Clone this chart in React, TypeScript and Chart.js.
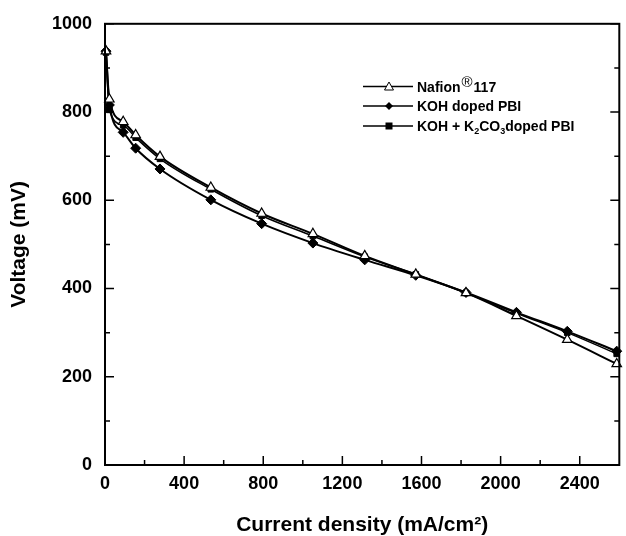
import React, { useEffect, useRef } from "react";
import { Chart, registerables } from "chart.js";

Chart.register(...registerables);

const currentDensity = [5, 22, 92, 155, 278, 535, 792, 1051, 1313, 1571, 1825, 2080, 2337, 2587];
const nafionVoltage = [938, 829, 778, 748, 699, 629, 570, 524, 474, 432, 390, 338, 284, 229];
const kohVoltage = [938, 816, 754, 718, 671, 601, 547, 503, 465, 430, 391, 346, 303, 258];
const kohK2co3Voltage = [935, 805, 770, 742, 694, 625, 565, 519, 472, 432, 390, 344, 300, 252];

const xTicks = [0, 400, 800, 1200, 1600, 2000, 2400];
const xMinorTicks = [200, 600, 1000, 1400, 1800, 2200];
const yTicks = [0, 200, 400, 600, 800, 1000];
const yMinorTicks = [100, 300, 500, 700, 900];

const seriesLabels = ["Nafion®117", "KOH doped PBI", "KOH + K2CO3doped PBI"];

const FONT = "'Liberation Sans', Arial, sans-serif";

const toPoints = (ys: number[]) => ys.map((y, i) => ({ x: currentDensity[i], y }));

const framePlugin = {
  id: "frameTicks",
  afterDatasetsDraw(chart: any) {
    const { ctx, chartArea, scales } = chart;
    const { left, right, top, bottom } = chartArea;
    ctx.save();
    ctx.strokeStyle = "#000";
    ctx.lineWidth = 2;
    ctx.strokeRect(left, top, right - left, bottom - top);
    ctx.lineWidth = 1.5;
    ctx.beginPath();
    xTicks.forEach((v) => {
      const px = scales.x.getPixelForValue(v);
      ctx.moveTo(px, bottom);
      ctx.lineTo(px, bottom - 9);
    });
    xMinorTicks.forEach((v) => {
      const px = scales.x.getPixelForValue(v);
      ctx.moveTo(px, bottom);
      ctx.lineTo(px, bottom - 5);
    });
    yTicks.forEach((v) => {
      const py = scales.y.getPixelForValue(v);
      ctx.moveTo(left, py);
      ctx.lineTo(left + 9, py);
      ctx.moveTo(right, py);
      ctx.lineTo(right - 9, py);
    });
    yMinorTicks.forEach((v) => {
      const py = scales.y.getPixelForValue(v);
      ctx.moveTo(left, py);
      ctx.lineTo(left + 5, py);
      ctx.moveTo(right, py);
      ctx.lineTo(right - 5, py);
    });
    ctx.stroke();
    ctx.restore();
  },
};

const legendPlugin = {
  id: "customLegend",
  afterDraw(chart: any) {
    const { ctx } = chart;
    const rows = [86.5, 106, 126];
    const x0 = 363;
    const x1 = 413;
    const mx = 389;
    const tx = 417;
    ctx.save();
    ctx.strokeStyle = "#000";
    ctx.fillStyle = "#000";
    rows.forEach((y, i) => {
      ctx.lineWidth = 1.5;
      ctx.beginPath();
      ctx.moveTo(x0, y);
      ctx.lineTo(x1, y);
      ctx.stroke();
      ctx.beginPath();
      if (i === 0) {
        ctx.moveTo(mx, y - 4.5);
        ctx.lineTo(mx + 4.5, y + 3.5);
        ctx.lineTo(mx - 4.5, y + 3.5);
        ctx.closePath();
        ctx.fillStyle = "#fff";
        ctx.fill();
        ctx.lineWidth = 1;
        ctx.stroke();
        ctx.fillStyle = "#000";
      } else if (i === 1) {
        ctx.moveTo(mx, y - 4);
        ctx.lineTo(mx + 4, y);
        ctx.lineTo(mx, y + 4);
        ctx.lineTo(mx - 4, y);
        ctx.closePath();
        ctx.fill();
      } else {
        ctx.rect(mx - 3.5, y - 3.5, 7, 7);
        ctx.fill();
      }
    });
    ctx.textBaseline = "alphabetic";
    ctx.textAlign = "left";
    const big = `bold 14px ${FONT}`;
    const small = `bold 9px ${FONT}`;
    // Row 1: Nafion®117
    let x = tx;
    let base = rows[0] + 5;
    ctx.font = big;
    ctx.fillText("Nafion", x, base);
    x += ctx.measureText("Nafion").width + 1;
    ctx.font = `15px ${FONT}`;
    ctx.fillText("®", x, base - 5);
    x += ctx.measureText("®").width + 1;
    ctx.font = big;
    ctx.fillText("117", x, base);
    // Row 2
    base = rows[1] + 5;
    ctx.fillText(seriesLabels[1], tx, base);
    // Row 3: KOH + K2CO3doped PBI
    base = rows[2] + 5;
    const parts: [string, boolean][] = [["KOH + K", false], ["2", true], ["CO", false], ["3", true], ["doped PBI", false]];
    x = tx;
    parts.forEach(([t, sub]) => {
      ctx.font = sub ? small : big;
      ctx.fillText(t, x, sub ? base + 3 : base);
      x += ctx.measureText(t).width;
    });
    ctx.restore();
  },
};

export default function App() {
  const ref = useRef<HTMLCanvasElement>(null);
  useEffect(() => {
    document.body.style.margin = "0";
    const canvas = ref.current!;
    const chart = new Chart(canvas, {
      type: "line",
      data: {
        datasets: [
          {
            label: seriesLabels[0],
            data: toPoints(nafionVoltage),
            borderColor: "#000",
            borderWidth: 2,
            pointStyle: "triangle",
            pointRadius: 5.5,
            pointBackgroundColor: "#fff",
            pointBorderColor: "#000",
            pointBorderWidth: 1.2,
            cubicInterpolationMode: "monotone",
          },
          {
            label: seriesLabels[1],
            data: toPoints(kohVoltage),
            borderColor: "#000",
            borderWidth: 2,
            pointStyle: "rectRot",
            pointRadius: 5,
            pointBackgroundColor: "#000",
            pointBorderColor: "#000",
            pointBorderWidth: 1,
            cubicInterpolationMode: "monotone",
          },
          {
            label: seriesLabels[2],
            data: toPoints(kohK2co3Voltage),
            borderColor: "#000",
            borderWidth: 1.5,
            pointStyle: "rect",
            pointRadius: 4,
            pointBackgroundColor: "#000",
            pointBorderColor: "#000",
            pointBorderWidth: 1,
            cubicInterpolationMode: "monotone",
          },
        ],
      },
      options: {
        animation: false,
        responsive: false,
        devicePixelRatio: 1,
        clip: false,
        layout: { padding: { left: 0, right: 1, top: 22, bottom: 0 } },
        plugins: { legend: { display: false }, tooltip: { enabled: false } },
        scales: {
          x: {
            type: "linear",
            min: 0,
            max: 2600,
            afterBuildTicks: (s: any) => {
              s.ticks = xTicks.map((v) => ({ value: v }));
            },
            afterFit: (s: any) => {
              s.height = 71;
            },
            grid: { display: false, drawTicks: false },
            border: { display: false },
            ticks: {
              color: "#000",
              font: { family: FONT, size: 18, weight: "bold" },
              padding: 8,
              maxRotation: 0,
              autoSkip: false,
              callback: (v: any) => String(v),
            },
            title: {
              display: true,
              text: "Current density (mA/cm²)",
              color: "#000",
              font: { family: FONT, size: 21, weight: "bold", lineHeight: 1 },
              padding: 0,
            },
          },
          y: {
            type: "linear",
            min: 0,
            max: 1000,
            afterBuildTicks: (s: any) => {
              s.ticks = yTicks.map((v) => ({ value: v }));
            },
            afterFit: (s: any) => {
              s.width = 105;
            },
            grid: { display: false, drawTicks: false },
            border: { display: false },
            ticks: {
              color: "#000",
              font: { family: FONT, size: 18, weight: "bold" },
              padding: 13,
              autoSkip: false,
              callback: (v: any) => String(v),
            },
            title: {
              display: true,
              text: "Voltage (mV)",
              color: "#000",
              font: { family: FONT, size: 21, weight: "bold", lineHeight: 1.8 },
              padding: 0,
            },
          },
        },
      },
      plugins: [framePlugin, legendPlugin],
    } as any);
    return () => chart.destroy();
  }, []);
  return (
    <div style={{ width: 626, height: 536, background: "#fff" }}>
      <canvas ref={ref} width={626} height={536} style={{ display: "block" }} />
    </div>
  );
}
